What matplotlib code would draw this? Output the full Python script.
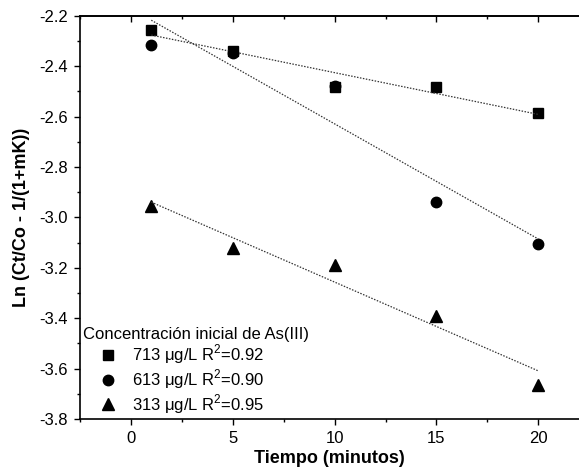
import numpy as np
import matplotlib
matplotlib.use("Agg")
import matplotlib.pyplot as plt
from matplotlib.ticker import MultipleLocator

plt.rcParams['font.family'] = ['Liberation Sans', 'DejaVu Sans']
plt.rcParams['mathtext.fontset'] = 'custom'
plt.rcParams['mathtext.rm'] = 'Liberation Sans'

time = [1, 5, 10, 15, 20]
s713 = [-2.257, -2.339, -2.483, -2.482, -2.585]
s613 = [-2.316, -2.349, -2.479, -2.940, -3.107]
s313 = [-2.955, -3.120, -3.190, -3.390, -3.664]
labels = ["713 \u03bcg/L R$^2$=0.92", "613 \u03bcg/L R$^2$=0.90", "313 \u03bcg/L R$^2$=0.95"]
markers = ['s', 'o', '^']
msizes = [6.5, 7.5, 8]
legend_title = "Concentraci\u00f3n inicial de As(III)"

fig = plt.figure(figsize=(5.79, 4.74), dpi=100)
ax = fig.add_axes([80/579, 1-419/474, 499/579, (419-15.7)/474])

x = np.array(time, dtype=float)
for ys, m, ms, lab in zip([s713, s613, s313], markers, msizes, labels):
    ax.plot(time, ys, linestyle='none', marker=m, markersize=ms, color='black', label=lab)
    k, b = np.polyfit(x, ys, 1)
    xf = np.array([time[0], time[-1]], dtype=float)
    ax.plot(xf, k*xf + b, linestyle=(0, (1.2, 1.2)), color='#333333', linewidth=0.9)

ax.set_xlim(-2.5, 22)
ax.set_ylim(-3.8, -2.2)
ax.xaxis.set_major_locator(MultipleLocator(5))
ax.xaxis.set_minor_locator(MultipleLocator(2.5))
ax.yaxis.set_major_locator(MultipleLocator(0.2))
ax.yaxis.set_minor_locator(MultipleLocator(0.1))
ax.yaxis.set_major_formatter(matplotlib.ticker.FormatStrFormatter('%.1f'))
ax.tick_params(which='major', direction='out', length=4.5, width=1, labelsize=12, pad=4)
ax.tick_params(which='minor', direction='out', length=2.5, width=1)
ax.spines['right'].set_visible(False)
for sp in ['left', 'bottom', 'top']:
    ax.spines[sp].set_linewidth(1.2)

sec = ax.secondary_xaxis('top')
sec.xaxis.set_major_locator(MultipleLocator(5))
sec.xaxis.set_minor_locator(MultipleLocator(2.5))
sec.tick_params(which='major', direction='in', length=4.5, width=1, labeltop=False)
sec.tick_params(which='minor', direction='in', length=2.5, width=1)
sec.spines['top'].set_linewidth(1.2)

ax.set_xlabel("Tiempo (minutos)", fontsize=13, fontweight='bold', labelpad=3)
ax.set_ylabel("Ln (Ct/Co - 1/(1+mK))", fontsize=13, fontweight='bold', labelpad=7)

leg = ax.legend(loc='lower left', title=legend_title, frameon=False, fontsize=12,
                title_fontsize=12, borderaxespad=0.1, borderpad=0.1,
                handletextpad=0.05, labelspacing=0.06, handlelength=2.9)
leg._legend_box.align = 'left'

fig.savefig("out.png", dpi=100)
